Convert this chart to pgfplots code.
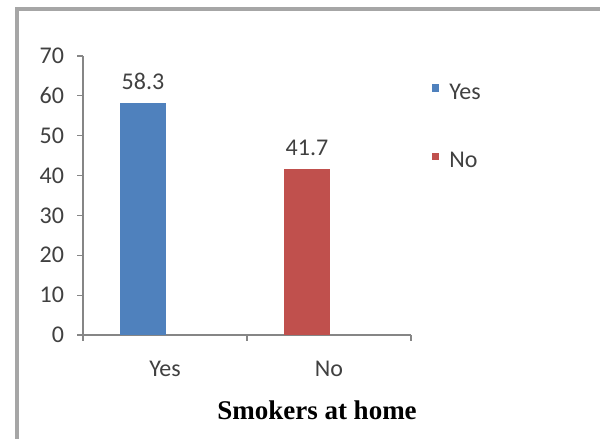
\documentclass[border=0pt]{standalone}
\usepackage{pgfplots}
\pgfplotsset{compat=1.18}
\usepackage{fontspec}
\setmainfont{Carlito}
\newfontfamily\titlefont{Liberation Serif}
\definecolor{barblue}{HTML}{4F81BD}
\definecolor{barred}{HTML}{C0504D}
\definecolor{axisgray}{HTML}{868686}
\definecolor{labelgray}{HTML}{404040}
\pgfplotsset{
  sq legend/.style={legend image code/.code={\fill[##1] (0pt,0.6pt) rectangle (3.6pt,4.4pt);}},
}
\begin{document}
\begin{tikzpicture}[x=1pt,y=1pt]
\useasboundingbox (0,0) rectangle (300,219.5);
\clip (0,0) rectangle (300,219.5);
% outer frame
\draw[line width=1.8pt, color=black!35] (8.5,-5) |- (310,215);
\begin{axis}[
  at={(41.5pt,52pt)}, anchor=south west,
  scale only axis, width=164pt, height=139.5pt,
  xmin=-0.5, xmax=1.5, ymin=0, ymax=70,
  axis lines*=left,
  axis line style={axisgray, line width=0.6pt},
  ytick={0,10,...,70},
  xtick={-0.5,0.5,1.5}, xticklabels={},
  extra x ticks={0,1}, extra x tick labels={Yes,No},
  extra x tick style={major tick length=0pt, tick label style={yshift=-9.3pt}},
  tick align=outside, major tick length=3pt,
  tick style={axisgray, line width=0.6pt},
  ticklabel style={font=\fontsize{12}{14}\selectfont, text=labelgray},
  yticklabel style={xshift=-3pt},
  /pgf/number format/assume math mode=true,
  ybar, bar width=23pt,
  nodes near coords,
  nodes near coords style={font=\fontsize{12}{14}\selectfont, text=labelgray, yshift=3pt,
    /pgf/number format/fixed, /pgf/number format/precision=1, /pgf/number format/fixed zerofill,
    /pgf/number format/assume math mode=true},
  legend style={draw=none, fill=none, at={(1.045,0.93)}, anchor=north west,
    font=\fontsize{12}{14}\selectfont, text=labelgray, row sep=21pt,
    /tikz/every odd column/.append style={column sep=3pt}},
  legend cell align=left,
  clip=false,
]
\addplot[fill=barblue, draw=none, bar shift=-11pt, sq legend] coordinates {(0,58.3)};
\addplot[fill=barred, draw=none, bar shift=-11pt, sq legend] coordinates {(1,41.7)};
\legend{Yes,No}
\end{axis}
\node[font=\titlefont\bfseries\fontsize{13.5}{16}\selectfont] at (158.5,14.5) {Smokers at home};
\end{tikzpicture}
\end{document}
